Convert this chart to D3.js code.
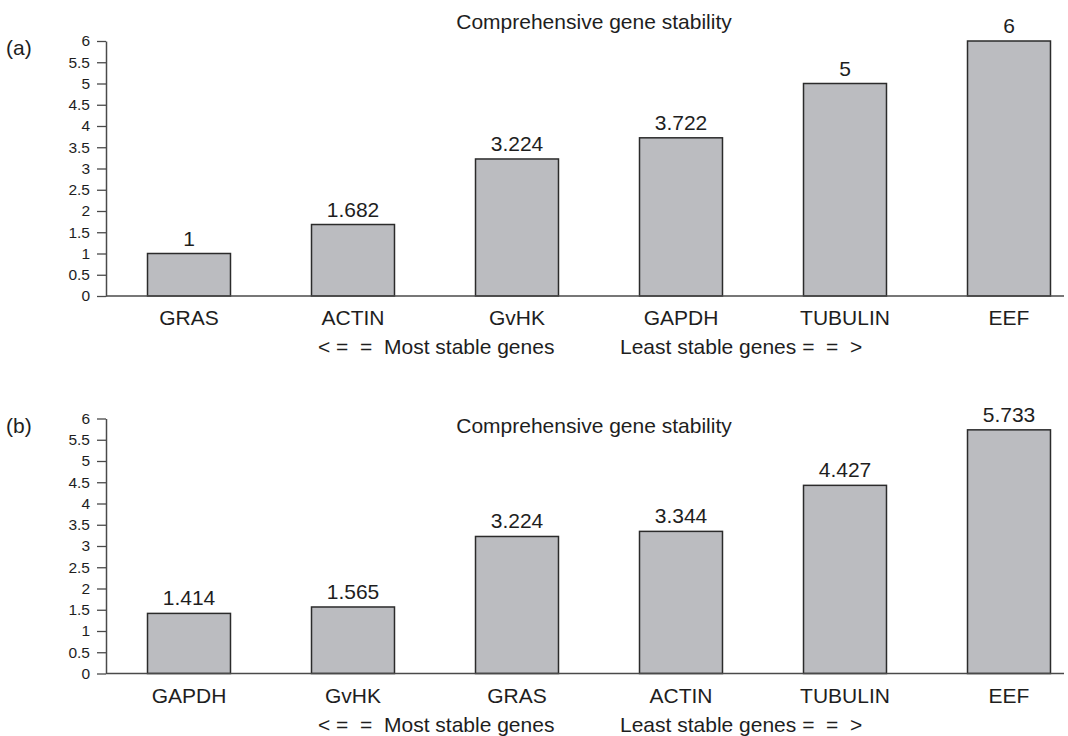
<!DOCTYPE html>
<html>
<head>
<meta charset="utf-8">
<script src="https://cdn.jsdelivr.net/npm/d3@7"></script>
<style>
  html, body { margin: 0; padding: 0; background: #fff; }
  svg { display: block; font-family: "Liberation Sans", Arial, Helvetica, sans-serif; }
</style>
</head>
<body>
<svg id="chart" width="1068" height="736"></svg>
<script>
// ---- data ----
const panelLabels = ["(a)", "(b)"];
const titleText = "Comprehensive gene stability";
const catsA = ["GRAS", "ACTIN", "GvHK", "GAPDH", "TUBULIN", "EEF"];
const valsA = [1, 1.682, 3.224, 3.722, 5, 6];
const catsB = ["GAPDH", "GvHK", "GRAS", "ACTIN", "TUBULIN", "EEF"];
const valsB = [1.414, 1.565, 3.224, 3.344, 4.427, 5.733];
const yTicks = [0, 0.5, 1, 1.5, 2, 2.5, 3, 3.5, 4, 4.5, 5, 5.5, 6];
const footerLeft = "< =  =  Most stable genes";
const footerRight = "Least stable genes =  =  >";

const svg = d3.select("#chart");
const BAR_FILL = "#bbbcc0", BAR_STROKE = "#2b2b2b", AXIS = "#4a4a4a", TEXT = "#1e1e1e";
const FS = 21;

function drawPanel(offsetY, titleY, label, cats, vals) {
  const g = svg.append("g").attr("transform", `translate(0,${offsetY})`);
  const y = d3.scaleLinear().domain([0, 6]).range([296, 41]);
  const x = d3.scaleBand().domain(cats).range([107, 1091])
    .paddingInner(0.494).paddingOuter(0.247);

  // panel label
  g.append("text").attr("x", 6).attr("y", 55).attr("font-size", FS)
    .attr("fill", TEXT).text(label);
  // title
  svg.append("text").attr("x", 594).attr("y", titleY).attr("text-anchor", "middle")
    .attr("font-size", FS).attr("fill", TEXT).text(titleText);

  // bars
  g.selectAll("rect.bar").data(cats).join("rect").attr("class", "bar")
    .attr("x", d => x(d)).attr("width", x.bandwidth())
    .attr("y", (d, i) => y(vals[i])).attr("height", (d, i) => y(0) - y(vals[i]))
    .attr("fill", BAR_FILL).attr("stroke", BAR_STROKE).attr("stroke-width", 1.5);

  // value labels
  g.selectAll("text.val").data(cats).join("text").attr("class", "val")
    .attr("x", d => x(d) + x.bandwidth() / 2)
    .attr("y", (d, i) => y(vals[i]) - 8)
    .attr("text-anchor", "middle").attr("font-size", FS).attr("fill", TEXT)
    .text((d, i) => String(vals[i]));

  // x baseline
  g.append("line").attr("x1", 106).attr("x2", 1064).attr("y1", y(0)).attr("y2", y(0))
    .attr("stroke", AXIS).attr("stroke-width", 1.5);

  // x axis labels
  const xa = g.append("g").attr("transform", `translate(0,${y(0)})`)
    .call(d3.axisBottom(x).tickSize(0).tickPadding(8));
  xa.select(".domain").remove();
  xa.selectAll("text").attr("font-size", FS).attr("fill", TEXT)
    .attr("font-family", "Liberation Sans, Arial, sans-serif").attr("dy", "1.0em");

  // y axis
  const ya = g.append("g").attr("transform", "translate(106,0)")
    .call(d3.axisLeft(y).tickValues(yTicks).tickSize(9).tickSizeOuter(0)
      .tickPadding(7).tickFormat(d3.format("~g")));
  ya.select(".domain").attr("stroke", AXIS).attr("stroke-width", 1.5);
  ya.selectAll(".tick line").attr("stroke", AXIS).attr("stroke-width", 1.3);
  ya.selectAll("text").attr("font-size", 15.5).attr("fill", TEXT)
    .attr("font-family", "Liberation Sans, Arial, sans-serif");

  // footer
  g.append("text").attr("x", 318).attr("y", 354).attr("font-size", FS)
    .attr("fill", TEXT).style("white-space", "pre").text(footerLeft);
  g.append("text").attr("x", 620).attr("y", 354).attr("font-size", FS)
    .attr("fill", TEXT).style("white-space", "pre").text(footerRight);
}

drawPanel(0, 29, panelLabels[0], catsA, valsA);
drawPanel(377.5, 433, panelLabels[1], catsB, valsB);
</script>
</body>
</html>
